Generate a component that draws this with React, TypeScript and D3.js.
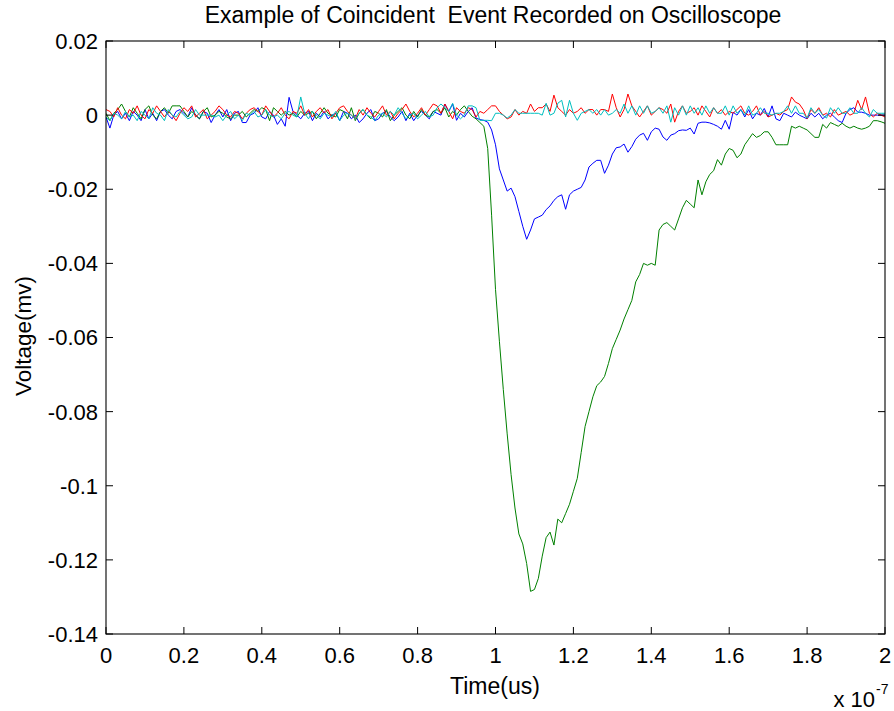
import React from 'react';
import * as d3 from 'd3';

// Sampling of the scope trace (seconds)
const TIME_STEP = 1e-9;
const SAMPLE_COUNT = 201;

const X_TICKS = [0, 0.2e-7, 0.4e-7, 0.6e-7, 0.8e-7, 1e-7, 1.2e-7, 1.4e-7, 1.6e-7, 1.8e-7, 2e-7];
const X_TICK_LABELS = ['0', '0.2', '0.4', '0.6', '0.8', '1', '1.2', '1.4', '1.6', '1.8', '2'];
const Y_TICKS = [0.02, 0, -0.02, -0.04, -0.06, -0.08, -0.1, -0.12, -0.14];
const Y_TICK_LABELS = ['0.02', '0', '-0.02', '-0.04', '-0.06', '-0.08', '-0.1', '-0.12', '-0.14'];

const BLUE = [
  -0.0005, -0.0035, 0, 0.001, -0.001, 0.0005, -0.0015, 0.001, 0, -0.0015,
  0.0015, -0.001, 0.0005, -0.0015, 0.001, 0.0015, 0, -0.001, 0.001, 0.0015,
  0.0005, -0.0005, 0.002, 0, -0.001, 0.001, 0.0005, -0.002, 0, 0.0015,
  -0.0005, 0.0015, -0.0015, 0.0005, 0.001, -0.002, -0.002, 0, 0.0005, 0.002,
  -0.0005, -0.001, 0.001, 0, -0.0025, -0.001, -0.003, 0.0048, 0.001, 0,
  -0.001, 0.0005, 0.001, -0.0015, 0.0005, -0.0005, 0.001, -0.001, 0, 0.0005,
  -0.0015, 0.001, 0.0005, -0.001, 0, -0.002, -0.001, 0.0005, 0.0015, -0.0015,
  -0.001, 0.0005, 0.001, -0.0005, -0.0015, -0.0005, 0.001, -0.0015, 0.0005, -0.0015,
  0, 0.001, 0, -0.001, 0.001, 0.0005, 0, 0.003, 0.001, 0.003,
  -0.0014, 0.0005, -0.0005, 0.001, 0.002, -0.0008, -0.0012, -0.0014, -0.0019, -0.004,
  -0.008, -0.0145, -0.0175, -0.0205, -0.0197, -0.022, -0.026, -0.03, -0.0335, -0.031,
  -0.028, -0.0275, -0.027, -0.0255, -0.0245, -0.023, -0.022, -0.0215, -0.0254, -0.0215,
  -0.0205, -0.02, -0.0195, -0.0175, -0.014, -0.013, -0.0122, -0.0122, -0.0157, -0.0135,
  -0.0105, -0.0088, -0.0086, -0.0078, -0.01, -0.0085, -0.0065, -0.0054, -0.0049, -0.0068,
  -0.0045, -0.0035, -0.0038, -0.0059, -0.0068, -0.0054, -0.005, -0.0042, -0.004, -0.0041,
  -0.0035, -0.0051, -0.0022, -0.0019, -0.0019, -0.0021, -0.0025, -0.003, -0.0038, -0.0014,
  -0.0038, 0.0008, 0, 0.0015, -0.0005, 0.0015, -0.001, 0.0005, 0, 0.0018,
  -0.0005, 0.0025, -0.001, -0.0015, 0.0005, 0, -0.0005, 0.0008, 0, -0.0005,
  -0.001, 0.0005, -0.0005, 0.0005, -0.001, 0, 0.0005, -0.0005, -0.0015, -0.002,
  0.0005, 0.0015, 0.002, 0.0008, 0.0008, 0.0005, 0, 0, 0, 0, 0,
];

const GREEN = [
  0.0005, -0.0015, 0.0005, 0.0015, 0.003, 0.001, -0.0005, 0.002, 0.0005, -0.001,
  0.0015, 0.0025, 0, -0.001, 0.001, 0.002, 0.0005, 0.0025, 0.0025, 0.0025,
  0.001, -0.0005, 0.001, 0, -0.001, 0.001, 0.002, -0.0005, 0, 0.001,
  0.0005, -0.0005, -0.001, 0, 0, 0.001, -0.0005, 0.0005, 0.0015, 0.001,
  0.002, 0.0015, -0.0015, 0.002, 0.001, 0, 0.001, 0, 0.0005, -0.0005,
  0.001, 0, 0.0005, 0.001, -0.001, 0.0005, 0.002, 0.0005, 0, -0.0005,
  0.0015, 0.001, -0.001, 0.002, -0.0015, 0.0005, 0.0015, 0, -0.001, 0.001,
  0.0005, -0.0005, 0.0015, -0.0015, 0, 0.001, 0.002, 0, -0.001, 0.001,
  -0.0005, 0.0015, 0, -0.0005, 0.001, 0.0015, 0.0005, 0.002, -0.0005, 0.001,
  0, 0.0015, 0.0025, 0.001, -0.0003, -0.001, -0.002, -0.003, -0.009, -0.027,
  -0.047, -0.061, -0.074, -0.086, -0.097, -0.106, -0.113, -0.1157, -0.121, -0.1285,
  -0.128, -0.125, -0.119, -0.114, -0.1125, -0.116, -0.109, -0.11, -0.1075, -0.105,
  -0.1015, -0.098, -0.091, -0.084, -0.08, -0.076, -0.073, -0.072, -0.0705, -0.067,
  -0.063, -0.0605, -0.058, -0.055, -0.0525, -0.05, -0.045, -0.043, -0.04, -0.0405,
  -0.04, -0.0405, -0.031, -0.0295, -0.029, -0.03, -0.031, -0.028, -0.025, -0.023,
  -0.024, -0.025, -0.0175, -0.0215, -0.018, -0.016, -0.015, -0.012, -0.0135, -0.0105,
  -0.009, -0.0095, -0.0115, -0.0105, -0.008, -0.0065, -0.005, -0.006, -0.0055, -0.0045,
  -0.0045, -0.006, -0.008, -0.008, -0.008, -0.008, -0.003, -0.0035, -0.003, -0.0035,
  -0.004, -0.005, -0.006, -0.006, -0.0025, -0.0035, -0.002, -0.0025, -0.003, -0.0022,
  -0.003, -0.0035, -0.003, -0.0035, -0.0038, -0.0035, -0.003, -0.0015, -0.0015, -0.0018, -0.0022,
];

const RED = [
  0.0015, 0.001, -0.0005, 0.002, 0, -0.001, 0.0015, 0.0005, 0.0025, 0,
  -0.001, 0.0015, 0.0005, 0.0025, 0.001, -0.0005, 0.001, 0, -0.0015, 0.0005,
  0.002, 0.001, 0.0025, -0.0005, 0.0005, 0.0015, -0.001, 0, 0.001, 0.0025,
  0.0015, 0, -0.0005, 0.001, 0.0005, -0.001, 0.0005, 0.0015, 0.002, 0.001,
  0, 0.0025, 0.001, -0.0005, 0.0005, 0.002, 0, -0.001, 0.001, 0.0005,
  0.0025, 0, 0.0015, -0.0005, 0.001, 0.002, 0.0005, 0.0015, -0.001, 0.0005,
  0.002, 0.0025, 0.001, 0, -0.001, 0.0015, 0, 0.002, 0.0005, -0.0005,
  0.001, 0.0025, 0, 0.001, -0.001, 0.0005, 0.0015, 0.003, 0.001, -0.0005,
  0.0005, 0.002, 0, 0.0015, 0.003, 0.0025, 0.0005, 0.003, 0.001, -0.001,
  0.002, 0.001, 0.0005, 0.002, 0.0015, -0.0005, 0.001, 0.0005, 0.0015, 0.0025,
  0.0025, 0.001, 0, -0.001, -0.0005, 0.0015, 0, 0.001, 0.0005, 0.003,
  0.001, 0.002, 0.002, 0.003, 0.001, 0.0054, 0.002, 0.001, 0, 0.0015,
  0.0005, 0.001, 0.002, 0.0005, 0.0015, 0.0015, 0, 0.0015, 0.0015, 0.001,
  0.0057, 0.002, -0.0005, 0.0015, 0.0057, 0.0025, 0.001, -0.0005, 0.001, 0.0025,
  0, 0.001, 0.002, 0.0015, 0.0005, 0.003, -0.0019, 0.001, 0.0025, 0.0005,
  0.001, 0.002, 0, 0.0025, 0.001, -0.0005, 0.002, 0.0005, 0.0015, 0,
  0.001, 0.0005, 0.0015, 0.0025, 0.0005, 0, 0.001, 0.0025, 0, 0.001,
  -0.0005, 0, 0.0005, 0, 0.001, 0.0015, 0.0049, 0.0035, 0.003, 0.0015,
  -0.001, 0.0015, 0.0005, 0.002, 0, 0.0005, -0.0005, 0.0015, 0, 0.0005,
  0.001, 0, 0.0005, 0.004, 0.0015, 0.0049, 0.0005, -0.0005, 0.0005, 0, -0.0005,
];

const CYAN = [
  -0.0005, -0.0015, 0.0005, 0, -0.001, 0.001, -0.0005, 0, -0.0015, 0.001,
  0, -0.001, 0.002, 0.0005, 0, -0.0015, 0.0015, 0, -0.0005, 0.001,
  0, -0.001, -0.0005, 0.0015, 0, 0, 0, 0, -0.0005, 0,
  -0.0015, 0, 0.001, -0.001, 0, -0.0015, 0.0005, 0, 0.001, -0.0005,
  0, 0.0015, 0, -0.0005, 0, -0.001, 0.0005, 0.001, 0, -0.0005,
  0.0049, 0.0005, -0.001, 0.001, 0, -0.001, 0.0005, 0, -0.0005, 0.001,
  -0.0015, 0, 0.0005, 0, -0.001, 0.0005, 0.0015, 0, -0.0005, -0.0015,
  0, 0.0005, -0.0005, 0.001, 0, 0.002, 0.0005, -0.001, 0, 0.0005,
  -0.001, 0, 0.001, -0.0005, 0, 0.002, 0.003, 0.002, 0.001, 0.0032,
  0, -0.001, 0, 0.0025, 0.0025, 0.002, -0.0014, -0.0014, -0.0014, -0.0015,
  0.0005, 0.0005, 0, -0.0008, 0, 0.0015, 0.0005, 0.0005, 0.0005, 0.0005,
  0.0005, 0.0005, 0, 0.0032, 0, 0.0005, 0.0032, 0.004, -0.0005, 0.004,
  0.0005, -0.0014, 0.0005, 0.001, 0.0015, 0.0005, 0.0015, 0, 0.0015, 0,
  0.0005, 0.0015, 0.0005, 0.003, 0.0005, 0.0025, 0, 0.0025, 0.0005, 0.0025,
  0.0005, 0.001, 0.002, 0.0005, 0.0025, -0.0019, 0.002, 0, 0.0025, 0,
  0.0025, 0.0005, 0.002, 0, 0.0025, 0.0005, 0.002, 0.0005, 0.0005, 0.0025,
  0, 0.0025, 0.0005, 0.0015, 0, 0.0025, 0, 0.0005, 0.002, 0.0005,
  0.0005, 0, 0.0005, 0.0005, 0.001, 0.0025, 0.0005, 0.0025, 0.0005, 0.0005,
  -0.0008, 0.002, 0.0005, 0.0015, 0, -0.0008, 0.002, 0.0005, 0.002, 0.0005,
  0.0005, 0.002, 0.0005, 0.0005, 0.002, 0.0005, -0.0005, 0.0015, 0.0005, 0.0005, 0.0005,
];

const SERIES = [
  { name: 'ch1', values: BLUE, color: '#0000ff' },
  { name: 'ch2', values: GREEN, color: '#008000' },
  { name: 'ch3', values: RED, color: '#ff0000' },
  { name: 'ch4', values: CYAN, color: '#00bfbf' },
];

const TITLE = 'Example of Coincident\u00a0 Event Recorded on Oscilloscope';
const X_LABEL = 'Time(us)';
const Y_LABEL = 'Voltage(mv)';

export default function App() {
  const W = 894;
  const H = 711;
  const L = 106, R = 885, T = 41, B = 634;
  const time = d3.range(SAMPLE_COUNT).map((i) => i * TIME_STEP);
  const x = d3.scaleLinear().domain([0, 2e-7]).range([L, R]);
  const y = d3.scaleLinear().domain([-0.14, 0.02]).range([B, T]);
  const font = "'Liberation Sans', Arial, Helvetica, sans-serif";
  const tick = 7;

  const line = (vals: number[]) =>
    d3.line<number>().x((_, i) => x(time[i])).y((v) => y(v))(vals) || '';

  return (
    <svg width={W} height={H} style={{ position: 'absolute', left: 0, top: 0, background: '#fff' }} fontFamily={font}>
      <rect x={0} y={0} width={W} height={H} fill="#fff" />
      <defs>
        <clipPath id="plotclip">
          <rect x={L} y={T} width={R - L} height={B - T} />
        </clipPath>
      </defs>
      <g clipPath="url(#plotclip)">
        {SERIES.map((s) => (
          <path key={s.name} d={line(s.values)} fill="none" stroke={s.color} strokeWidth={1} strokeLinejoin="round" />
        ))}
      </g>
      {/* box */}
      <rect x={L} y={T} width={R - L} height={B - T} fill="none" stroke="#000" strokeWidth={1.1} />
      {/* x ticks */}
      {X_TICKS.map((t, i) => (
        <g key={'xt' + i}>
          <line x1={x(t)} x2={x(t)} y1={B} y2={B - tick} stroke="#000" strokeWidth={1} />
          <line x1={x(t)} x2={x(t)} y1={T} y2={T + tick} stroke="#000" strokeWidth={1} />
          <text x={x(t)} y={663} textAnchor="middle" fontSize={22} fill="#000">{X_TICK_LABELS[i]}</text>
        </g>
      ))}
      {/* y ticks */}
      {Y_TICKS.map((t, i) => (
        <g key={'yt' + i}>
          <line x1={L} x2={L + tick} y1={y(t)} y2={y(t)} stroke="#000" strokeWidth={1} />
          <line x1={R} x2={R - tick} y1={y(t)} y2={y(t)} stroke="#000" strokeWidth={1} />
          <text x={98} y={y(t)} dy="0.36em" textAnchor="end" fontSize={22} fill="#000">{Y_TICK_LABELS[i]}</text>
        </g>
      ))}
      {/* title */}
      <text x={493} y={23} textAnchor="middle" fontSize={23} fill="#000">{TITLE}</text>
      {/* x label */}
      <text x={495} y={694} textAnchor="middle" fontSize={23} fill="#000">{X_LABEL}</text>
      {/* y label */}
      <text transform="translate(31,336) rotate(-90)" textAnchor="middle" fontSize={22.5} fill="#000">{Y_LABEL}</text>
      {/* exponent */}
      <text x={875} y={707} textAnchor="end" fontSize={22} fill="#000">x 10</text>
      <text x={876} y={694} fontSize={14} fill="#000">-7</text>
    </svg>
  );
}
